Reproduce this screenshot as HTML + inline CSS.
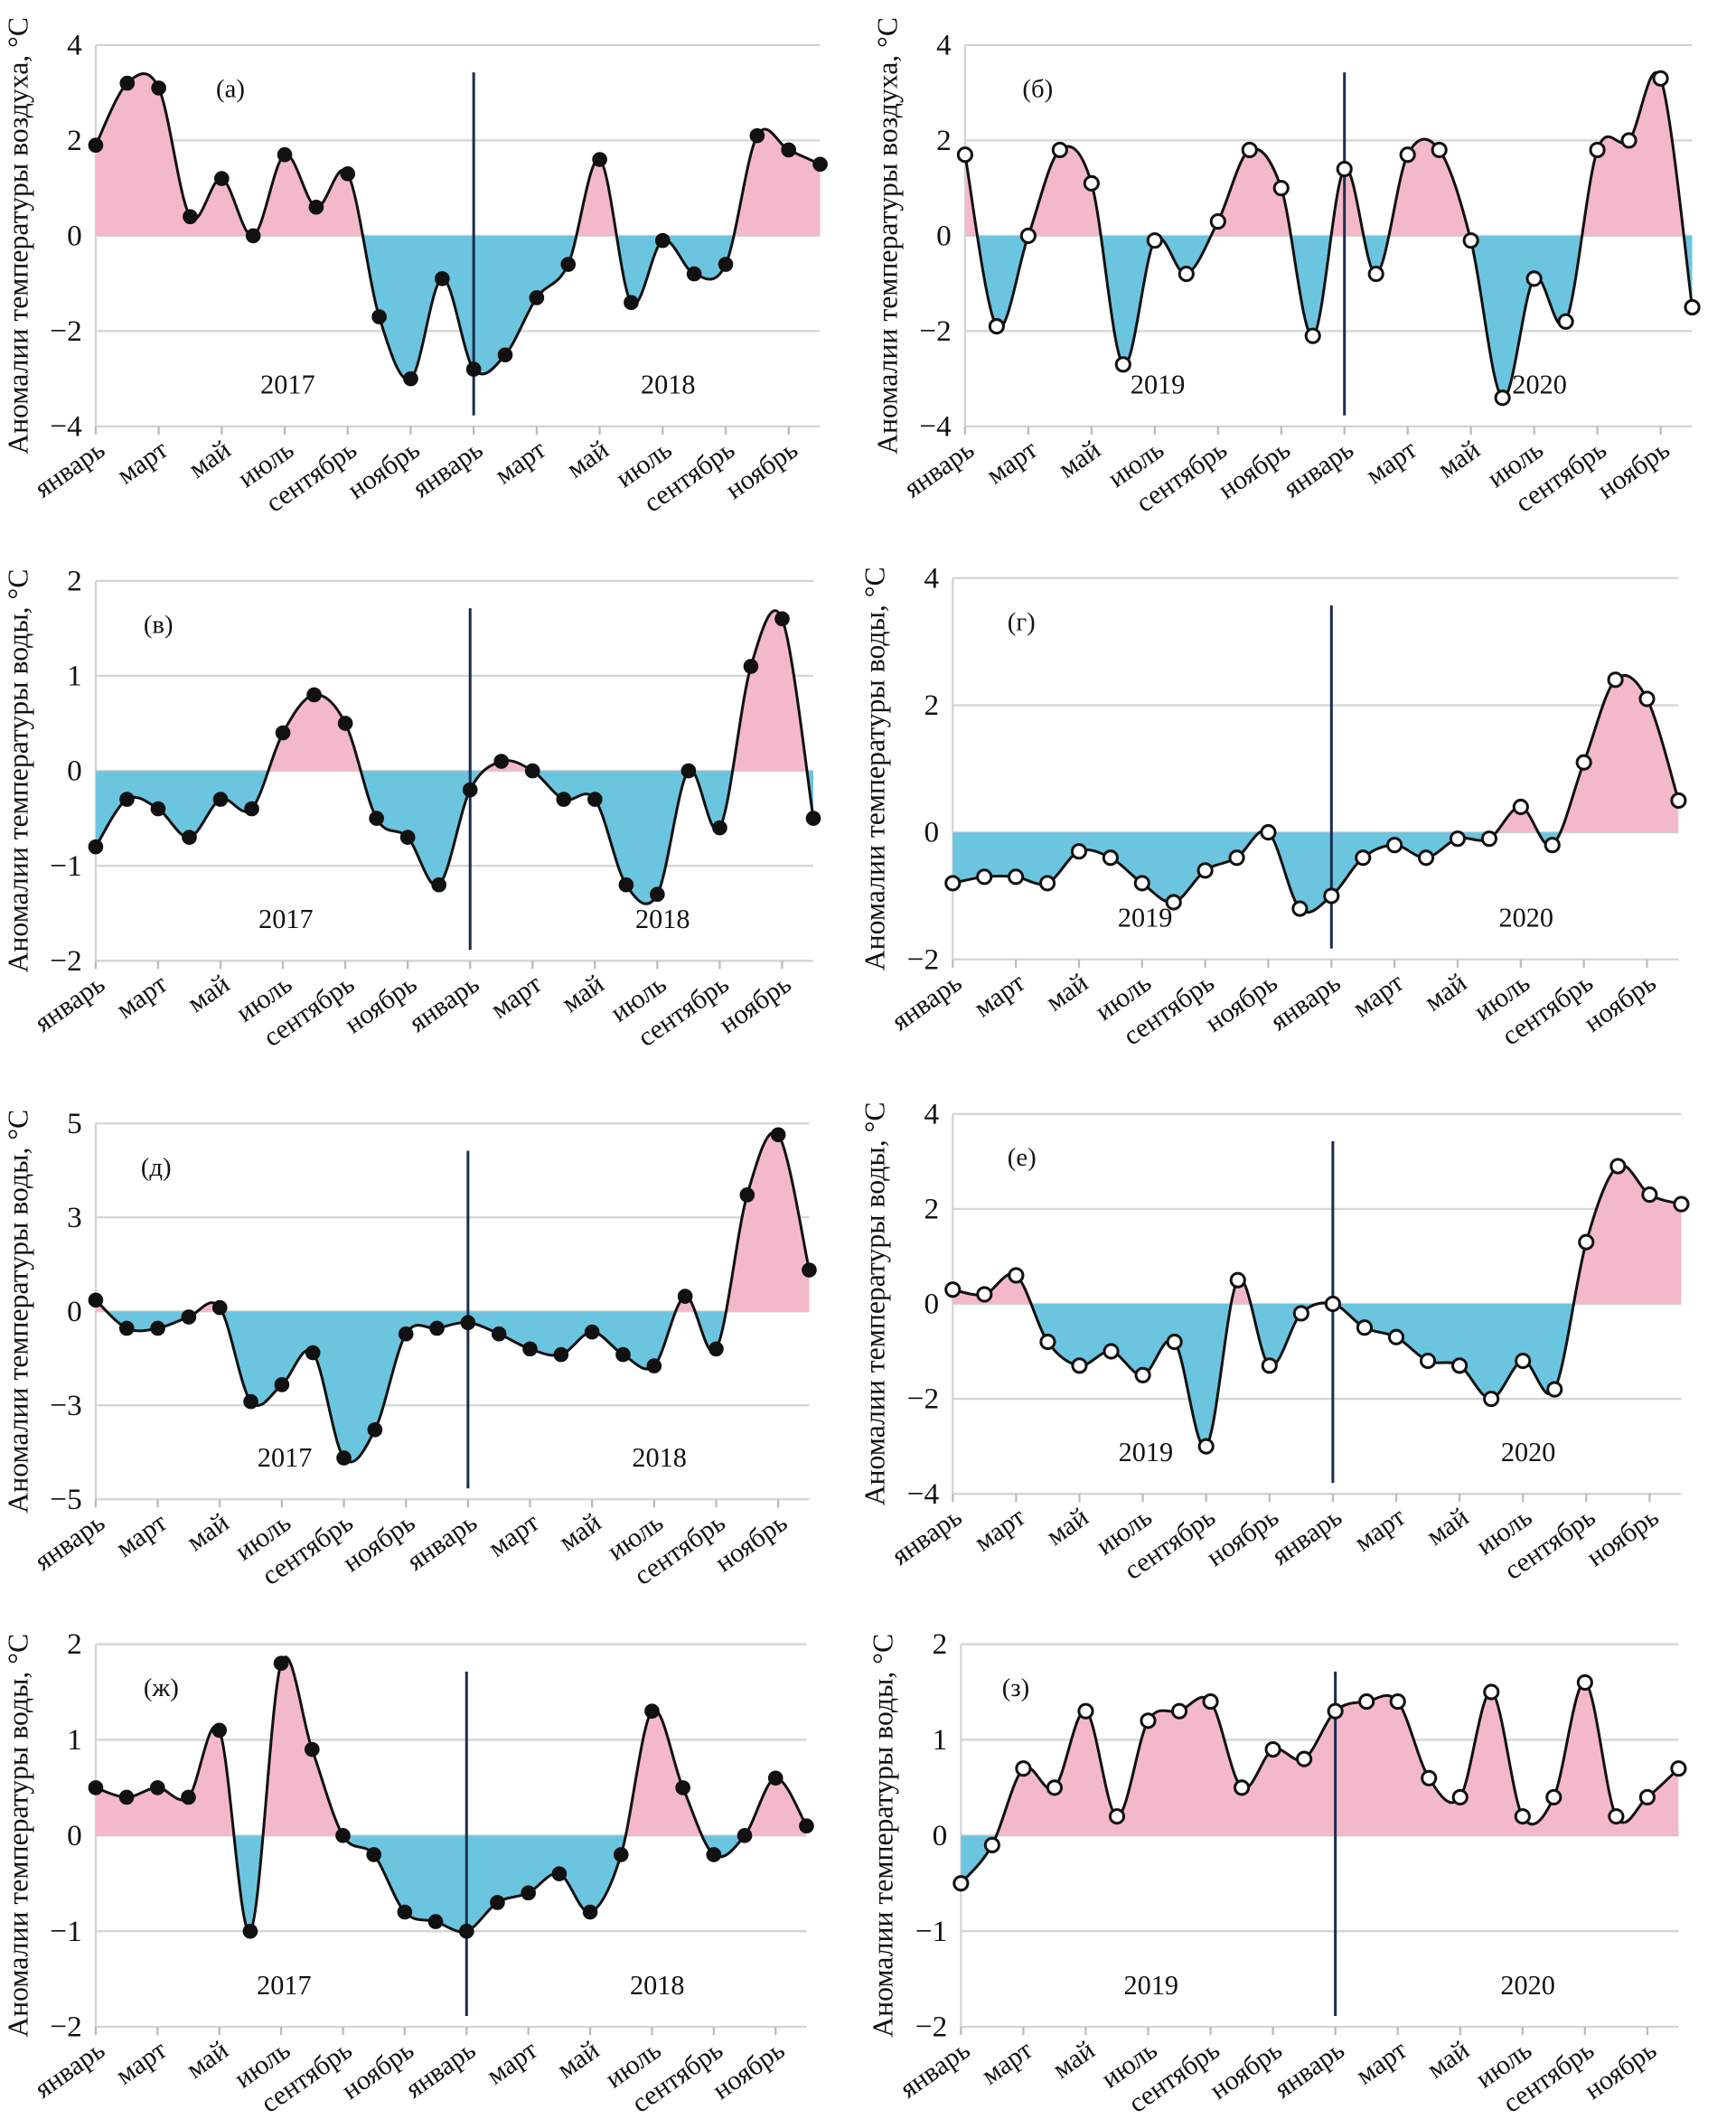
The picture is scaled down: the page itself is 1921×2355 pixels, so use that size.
<!DOCTYPE html>
<html><head><meta charset="utf-8"><style>
html,body{margin:0;padding:0;background:#fff}
svg{display:block}
text{font-family:"Liberation Serif",serif;fill:#111}
</style></head><body>
<svg id="c" width="1921" height="2355" viewBox="0 0 1270 1557" xmlns="http://www.w3.org/2000/svg"></svg>
<script>
const months = ["январь","март","май","июль","сентябрь","ноябрь","январь","март","май","июль","сентябрь","ноябрь"];
const seriesA = [1.9,3.2,3.1,0.4,1.2,0.0,1.7,0.6,1.3,-1.7,-3.0,-0.9,-2.8,-2.5,-1.3,-0.6,1.6,-1.4,-0.1,-0.8,-0.6,2.1,1.8,1.5];
const seriesB = [1.7,-1.9,0.0,1.8,1.1,-2.7,-0.1,-0.8,0.3,1.8,1.0,-2.1,1.4,-0.8,1.7,1.8,-0.1,-3.4,-0.9,-1.8,1.8,2.0,3.3,-1.5];
const seriesV = [-0.8,-0.3,-0.4,-0.7,-0.3,-0.4,0.4,0.8,0.5,-0.5,-0.7,-1.2,-0.2,0.1,0.0,-0.3,-0.3,-1.2,-1.3,0.0,-0.6,1.1,1.6,-0.5];
const seriesG = [-0.8,-0.7,-0.7,-0.8,-0.3,-0.4,-0.8,-1.1,-0.6,-0.4,0.0,-1.2,-1.0,-0.4,-0.2,-0.4,-0.1,-0.1,0.4,-0.2,1.1,2.4,2.1,0.5];
const seriesD = [0.3,-0.45,-0.45,-0.15,0.1,-2.4,-1.95,-1.1,-3.9,-3.15,-0.6,-0.45,-0.3,-0.6,-1.0,-1.15,-0.55,-1.15,-1.45,0.4,-1.0,3.1,4.7,1.1];
const seriesE = [0.3,0.2,0.6,-0.8,-1.3,-1.0,-1.5,-0.8,-3.0,0.5,-1.3,-0.2,0.0,-0.5,-0.7,-1.2,-1.3,-2.0,-1.2,-1.8,1.3,2.9,2.3,2.1];
const seriesZh = [0.5,0.4,0.5,0.4,1.1,-1.0,1.8,0.9,0.0,-0.2,-0.8,-0.9,-1.0,-0.7,-0.6,-0.4,-0.8,-0.2,1.3,0.5,-0.2,0.0,0.6,0.1];
const seriesZ = [-0.5,-0.1,0.7,0.5,1.3,0.2,1.2,1.3,1.4,0.5,0.9,0.8,1.3,1.4,1.4,0.6,0.4,1.5,0.2,0.4,1.6,0.2,0.4,0.7];
const ticksA = [-4,-2,0,2,4];
const ticksV = [-2,-1,0,1,2];
const ticksG = [-2,0,2,4];
const ticksD = [-5,-2.5,0,2.5,5];
const tickLabelsD = ["−5","−3","0","3","5"];

const NS="http://www.w3.org/2000/svg";
const svg=document.getElementById('c');
function mk(t,a,p){const e=document.createElementNS(NS,t);for(const k in a)e.setAttribute(k,a[k]);(p||svg).appendChild(e);return e;}
function smooth(pts){let d="M"+pts[0][0]+","+pts[0][1];for(let i=0;i<pts.length-1;i++){const p0=pts[i-1]||pts[i],p1=pts[i],p2=pts[i+1],p3=pts[i+2]||p2;const c1=[p1[0]+(p2[0]-p0[0])/6,p1[1]+(p2[1]-p0[1])/6],c2=[p2[0]-(p3[0]-p1[0])/6,p2[1]-(p3[1]-p1[1])/6];d+=" C"+c1[0]+","+c1[1]+" "+c2[0]+","+c2[1]+" "+p2[0]+","+p2[1];}return d;}
let cid=0;
function panel(o){
  const g=mk('g',{});
  
  
  const y=v=>o.b+(v-o.min)/(o.max-o.min)*(o.t-o.b);
  const x=i=>o.l+i*(o.r-o.l)/(o.data.length-1);
  o.ticks.forEach((v,k)=>{
    const gl=mk('line',{x1:o.l,x2:o.r,y1:y(v),y2:y(v),stroke:'#d4d4d4','stroke-width':1.5},g);
    
    const lab=o.labels?o.labels[k]:(v<0?'−'+(-v):String(v));
    const tl=mk('text',{x:o.l-10,y:y(v)+7,'text-anchor':'end','font-size':22},g);tl.textContent=lab;
    
  });
  mk('line',{x1:o.l,x2:o.l,y1:o.t,y2:o.b,stroke:'#d4d4d4','stroke-width':1.5},g);
  const pts=o.data.map((v,i)=>[x(i),y(v)]);
  const d=smooth(pts);
  const z=y(0);
  const area=d+" L"+x(o.data.length-1)+","+z+" L"+o.l+","+z+" Z";
  const id1='cp'+(cid++),id2='cp'+(cid++);
  const cp1=mk('clipPath',{id:id1},g);mk('rect',{x:o.l,y:o.t-40,width:o.r-o.l,height:z-o.t+40},cp1);
  const cp2=mk('clipPath',{id:id2},g);mk('rect',{x:o.l,y:z,width:o.r-o.l,height:o.b-z+40},cp2);
  const pa=mk('path',{d:area,fill:'#f4b9c9','clip-path':'url(#'+id1+')'},g);
  
  const na=mk('path',{d:area,fill:'#6cc5df','clip-path':'url(#'+id2+')'},g);
  
  const vl=mk('line',{x1:x(12),x2:x(12),y1:o.t+20,y2:o.b-8,stroke:'#1b2d4f','stroke-width':2},g);
  
  const ln=mk('path',{d:d,fill:'none',stroke:'#111','stroke-width':2},g);
  
  pts.forEach(p=>{
    const c=mk('circle',{cx:p[0],cy:p[1],r:5,fill:o.open?'#fff':'#111',stroke:'#111','stroke-width':o.open?2:1},g);
    
  });
  months.forEach((m,k)=>{
    const tx=x(k*2);
    mk('line',{x1:tx,x2:tx,y1:o.b,y2:o.b+6,stroke:'#bbb','stroke-width':1.5},g);
    const t=mk('text',{x:tx+8,y:o.b+20,'text-anchor':'end','font-size':20,transform:'rotate(-35 '+(tx+8)+' '+(o.b+20)+')'},g);
    t.textContent=m;
    
  });
  const W=o.r-o.l;
  [[o.years[0],0.265],[o.years[1],0.79]].forEach(([yr,f])=>{
    const t=mk('text',{x:o.l+f*W,y:o.b-24,'text-anchor':'middle','font-size':20},g);t.textContent=yr;
    
  });
  const pl=mk('text',{x:o.l+o.plx,y:o.t+38,'font-size':19},g);pl.textContent=o.label;
  
  const cy=(o.t+o.b)/2;
  const at=mk('text',{x:o.l-50,y:cy,'text-anchor':'middle','font-size':21,transform:'rotate(-90 '+(o.l-50)+' '+cy+')'},g);
  at.textContent=o.title;
  
}
const air='Аномалии температуры воздуха, °С', wat='Аномалии температуры воды, °С';
const y1=['2017','2018'], y2=['2019','2020'];
panel({name:'a',data:seriesA,l:70,r:600,t:33,b:312,min:-4,max:4,ticks:ticksA,years:y1,label:'(а)',plx:88,title:air,open:false});
panel({name:'b',data:seriesB,l:706,r:1238,t:33,b:312,min:-4,max:4,ticks:ticksA,years:y2,label:'(б)',plx:42,title:air,open:true});
panel({name:'v',data:seriesV,l:70,r:595,t:425,b:703,min:-2,max:2,ticks:ticksV,years:y1,label:'(в)',plx:35,title:wat,open:false});
panel({name:'g',data:seriesG,l:697,r:1228,t:423,b:702,min:-2,max:4,ticks:ticksG,years:y2,label:'(г)',plx:40,title:wat,open:true});
panel({name:'d',data:seriesD,l:70,r:592,t:822,b:1097,min:-5,max:5,ticks:ticksD,labels:tickLabelsD,years:y1,label:'(д)',plx:33,title:wat,open:false});
panel({name:'e',data:seriesE,l:697,r:1230,t:815,b:1093,min:-4,max:4,ticks:ticksA,years:y2,label:'(е)',plx:40,title:wat,open:true});
panel({name:'zh',data:seriesZh,l:70,r:590,t:1203,b:1483,min:-2,max:2,ticks:ticksV,years:y1,label:'(ж)',plx:35,title:wat,open:false});
panel({name:'z',data:seriesZ,l:703,r:1228,t:1203,b:1483,min:-2,max:2,ticks:ticksV,years:y2,label:'(з)',plx:30,title:wat,open:true});
</script>
</body></html>
